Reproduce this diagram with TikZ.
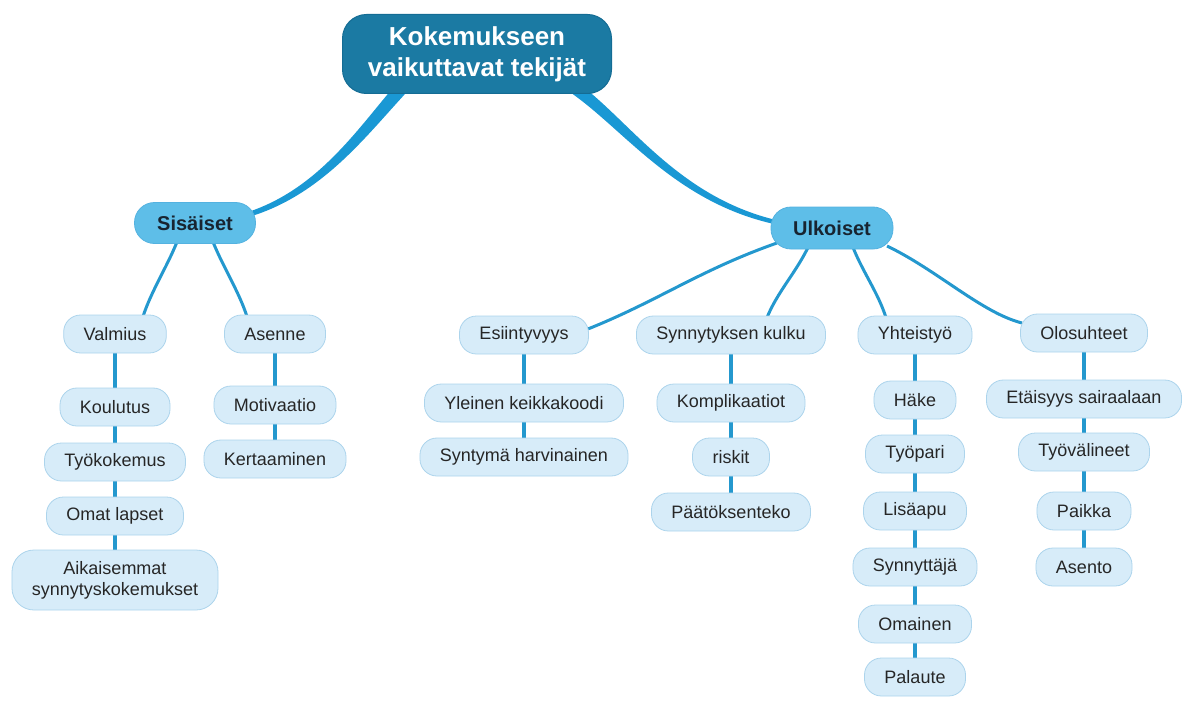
\documentclass[tikz,border=0pt]{standalone}
\usepackage{fontspec}
\setmainfont{Liberation Sans}
\usetikzlibrary{calc,backgrounds}
\definecolor{rootfill}{RGB}{27,122,163}
\definecolor{rootdraw}{RGB}{20,108,148}
\definecolor{midfill}{RGB}{94,190,232}
\definecolor{middraw}{RGB}{84,178,224}
\definecolor{midtext}{RGB}{24,36,48}
\definecolor{leaffill}{RGB}{215,236,249}
\definecolor{leafdraw}{RGB}{172,212,236}
\definecolor{leaftext}{RGB}{38,38,38}
\definecolor{linkc}{RGB}{36,152,206}
\definecolor{bigcol}{RGB}{26,152,212}
\tikzset{
  rootbox/.style={draw=rootdraw, line width=1pt, fill=rootfill, rounded corners=24pt,
    minimum width=269pt, minimum height=79pt, text=white,
    font=\fontsize{26}{31}\selectfont\bfseries, align=center, inner sep=0pt},
  midbox/.style={draw=middraw, fill=midfill, line width=0.8pt, rounded corners=20pt,
    minimum height=41pt, minimum width=121pt,
    font=\fontsize{20}{24}\selectfont\bfseries, text=midtext},
  leaf/.style={draw=leafdraw, fill=leaffill, line width=0.8pt, rounded corners=17pt,
    minimum height=38pt, inner xsep=20pt, inner ysep=4pt,
    font=\fontsize{18}{21}\selectfont, text=leaftext, align=center},
  link/.style={draw=linkc, line width=3pt},
  vlink/.style={draw=linkc, line width=3.2pt},
  bigcurve/.style={fill=bigcol, draw=none},
}
\begin{document}
\begin{tikzpicture}[x=1pt,y=-1pt]
\useasboundingbox (0,0) rectangle (1192,709);
% root and main branches
\node[rootbox] (root) at (477,54) {Kokemukseen\\vaikuttavat tekijät};
\node[midbox] (sis) at (195,223) {Sisäiset};
\node[midbox, minimum width=122pt, minimum height=42pt] (ulk) at (832,228) {Ulkoiset};
% Sisäiset branch
\node[leaf] (valmius) at (115,334) {Valmius};
\node[leaf] (koulutus) at (115,407) {Koulutus};
\node[leaf] (tyokok) at (115,462) {Työkokemus};
\node[leaf] (omat) at (115,516) {Omat lapset};
\node[leaf, rounded corners=22pt, minimum height=60pt] (aik) at (115,580) {Aikaisemmat\\synnytyskokemukset};
\node[leaf] (asenne) at (275,334) {Asenne};
\node[leaf] (motiv) at (275,405) {Motivaatio};
\node[leaf] (kert) at (275,459) {Kertaaminen};
% Ulkoiset branch
\node[leaf] (esi) at (524,335) {Esiintyvyys};
\node[leaf] (yleinen) at (524,403) {Yleinen keikkakoodi};
\node[leaf] (syntyma) at (524,457) {Syntymä harvinainen};
\node[leaf] (syn) at (731,335) {Synnytyksen kulku};
\node[leaf] (kompl) at (731,403) {Komplikaatiot};
\node[leaf] (riskit) at (731,457) {riskit};
\node[leaf] (paatos) at (731,512) {Päätöksenteko};
\node[leaf] (yht) at (915,335) {Yhteistyö};
\node[leaf] (hake) at (915,400) {Häke};
\node[leaf] (tyopari) at (915,454) {Työpari};
\node[leaf] (lisa) at (915,511) {Lisäapu};
\node[leaf] (synnyttaja) at (915,567) {Synnyttäjä};
\node[leaf] (omainen) at (915,624) {Omainen};
\node[leaf] (palaute) at (915,677) {Palaute};
\node[leaf] (olo) at (1084,333) {Olosuhteet};
\node[leaf] (etaisyys) at (1084,399) {Etäisyys sairaalaan};
\node[leaf] (tyoval) at (1084,452) {Työvälineet};
\node[leaf] (paikka) at (1084,511) {Paikka};
\node[leaf] (asento) at (1084,567) {Asento};

\begin{scope}[on background layer]
% tapered main connectors (start hidden under the root box)
\fill[bigcurve] (412.8,85.1) -- (402.9,96.3) .. controls (363.9,138.8) and (322.0,193.0) .. (253.8,215.4)
  -- (252.2,210.6) .. controls (318.0,187.1) and (356.2,131.2) .. (393.1,87.7) -- (403.0,76.5) -- cycle;
\fill[bigcurve] (571.7,78.1) -- (583.6,87.2) .. controls (632.9,125.9) and (681.4,197.1) .. (775.5,219.9)
  -- (774.5,224.1) .. controls (678.6,202.9) and (627.2,134.1) .. (576.4,96.8) -- (564.5,87.7) -- cycle;
% second level connectors
\draw[link] ($(sis.south)+(-18,-2)$) .. controls +(-10,25) and +(8,-25) .. ($(valmius.north)+(28,2)$);
\draw[link] ($(sis.south)+(18,-2)$) .. controls +(10,25) and +(-8,-25) .. ($(asenne.north)+(-28,2)$);
\draw[link] ($(ulk.center)+(-55,15)$) .. controls +(-77,27) and +(70,-28) .. ($(esi.east)+(-1,-6)$);
\draw[link] ($(ulk.south)+(-24,-2)$) .. controls +(-12,25) and +(10,-25) .. ($(syn.north)+(36,2)$);
\draw[link] ($(ulk.south)+(21,-2)$) .. controls +(10,25) and +(-8,-25) .. ($(yht.north)+(-29,2)$);
\draw[link] ($(ulk.center)+(55,18)$) .. controls +(50,24) and +(-40,-10) .. ($(olo.west)+(2,-10)$);
% vertical chains
\draw[vlink] (valmius.south) -- (koulutus.north);
\draw[vlink] (koulutus.south) -- (tyokok.north);
\draw[vlink] (tyokok.south) -- (omat.north);
\draw[vlink] (omat.south) -- (aik.north);
\draw[vlink] (asenne.south) -- (motiv.north);
\draw[vlink] (motiv.south) -- (kert.north);
\draw[vlink] (esi.south) -- (yleinen.north);
\draw[vlink] (yleinen.south) -- (syntyma.north);
\draw[vlink] (syn.south) -- (kompl.north);
\draw[vlink] (kompl.south) -- (riskit.north);
\draw[vlink] (riskit.south) -- (paatos.north);
\draw[vlink] (yht.south) -- (hake.north);
\draw[vlink] (hake.south) -- (tyopari.north);
\draw[vlink] (tyopari.south) -- (lisa.north);
\draw[vlink] (lisa.south) -- (synnyttaja.north);
\draw[vlink] (synnyttaja.south) -- (omainen.north);
\draw[vlink] (omainen.south) -- (palaute.north);
\draw[vlink] (olo.south) -- (etaisyys.north);
\draw[vlink] (etaisyys.south) -- (tyoval.north);
\draw[vlink] (tyoval.south) -- (paikka.north);
\draw[vlink] (paikka.south) -- (asento.north);
\end{scope}
\end{tikzpicture}
\end{document}
